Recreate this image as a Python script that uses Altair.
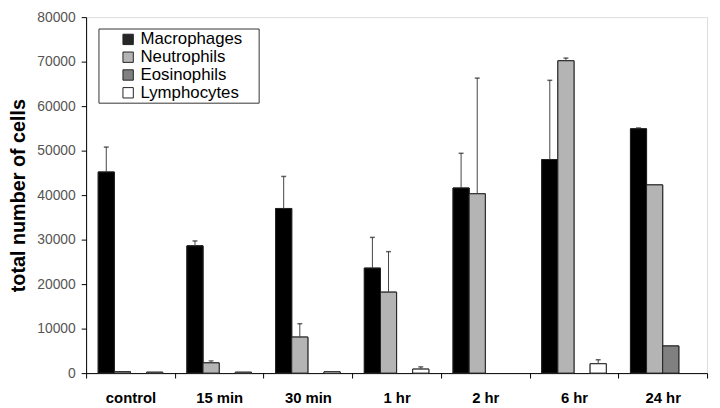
import altair as alt
import pandas as pd

categories = ["control", "15 min", "30 min", "1 hr", "2 hr", "6 hr", "24 hr"]
series = ["Macrophages", "Neutrophils", "Eosinophils", "Lymphocytes"]
colors = ["#000000", "#b4b4b4", "#808080", "#ffffff"]
legend_colors = ["#262626", "#b4b4b4", "#808080", "#ffffff"]

macrophages = [45200, 28600, 37000, 23600, 41600, 48000, 54900]
macrophages_err = [5600, 1100, 7200, 6900, 7800, 17800, 200]
neutrophils = [300, 2300, 8100, 18200, 40300, 70200, 42300]
neutrophils_err = [0, 450, 3000, 9100, 26000, 600, 0]
eosinophils = [0, 0, 0, 0, 0, 0, 6100]
eosinophils_err = [0, 0, 0, 0, 0, 0, 0]
lymphocytes = [200, 200, 300, 900, 0, 2100, 0]
lymphocytes_err = [0, 0, 0, 500, 0, 900, 0]

rows = []
for name, vals, errs in [
    ("Macrophages", macrophages, macrophages_err),
    ("Neutrophils", neutrophils, neutrophils_err),
    ("Eosinophils", eosinophils, eosinophils_err),
    ("Lymphocytes", lymphocytes, lymphocytes_err),
]:
    for c, v, e in zip(categories, vals, errs):
        rows.append({"time": c, "cell": name, "value": v, "top": v + e, "err": e})
df = pd.DataFrame(rows)
df_nz = df[df["value"] > 0]

FONT = "Liberation Sans"

x = alt.X(
    "time:N",
    sort=categories,
    scale=alt.Scale(domain=categories, paddingInner=0, paddingOuter=0),
    axis=alt.Axis(
        title=None, labelAngle=0, labelFontWeight="bold", labelFontSize=15,
        labelColor="#000", labelFont=FONT, labelPadding=13, tickBand="extent",
        tickSize=5, tickColor="#000", domainColor="#000",
    ),
)
xo = alt.XOffset("cell:N", scale=alt.Scale(domain=series, paddingOuter=0.75, paddingInner=0))
y_scale = alt.Scale(domain=[0, 80000], nice=False)

bars = alt.Chart(df_nz).mark_bar(stroke="#222", strokeWidth=1).encode(
    x=x,
    xOffset=xo,
    y=alt.Y(
        "value:Q", scale=y_scale,
        axis=alt.Axis(
            title="total number of cells", titleFontSize=20, titleFontWeight="bold",
            titleFont=FONT, titleColor="#000", titlePadding=8,
            values=list(range(0, 80001, 10000)), format="d", grid=False,
            labelFontSize=14, labelFont=FONT, labelColor="#555", labelPadding=6,
            tickSize=5, tickColor="#000", domainColor="#000",
        ),
    ),
    fill=alt.Fill(
        "cell:N",
        scale=alt.Scale(domain=series, range=legend_colors),
        legend=alt.Legend(
            title=None, orient="none", legendX=34, legendY=14,
            labelFontSize=17, labelFont=FONT, labelColor="#000",
            symbolType="square", symbolSize=110, symbolStrokeColor="#222",
            symbolStrokeWidth=1, rowPadding=0, padding=0, labelOffset=4,
            symbolOffset=0,
        ),
    ),
)

bars_fill = alt.Chart(df_nz).mark_bar(stroke="#222", strokeWidth=1).encode(
    x=x, xOffset=xo, y=alt.Y("value:Q", scale=y_scale),
    color=alt.Color("cell:N", scale=alt.Scale(domain=series, range=colors), legend=None),
)

err_df = df[df["err"] > 0]
rules = alt.Chart(err_df).mark_rule(color="#444", strokeWidth=1).encode(
    x=x, xOffset=xo, y=alt.Y("value:Q", scale=y_scale), y2="top:Q",
)
caps = alt.Chart(err_df).mark_tick(color="#222", thickness=1.5, size=5).encode(
    x=x, xOffset=xo, y=alt.Y("top:Q", scale=y_scale),
)

legend_frame = alt.Chart(pd.DataFrame({"a": [0]})).mark_rect(
    fill="#ffffff", stroke="#333", strokeWidth=1
).encode(
    x=alt.value(13), x2=alt.value(175), y=alt.value(12), y2=alt.value(87),
)

chart = (
    alt.layer(legend_frame, bars, bars_fill, rules, caps)
    .resolve_scale(color="independent")
    .properties(
        width=628, height=360,
        autosize=alt.AutoSizeParams(type="none"),
        padding={"left": 79, "top": 7, "right": 5, "bottom": 30},
    )
    .configure_view(stroke="#666", strokeWidth=1)
    .configure(background="#ffffff")
)

chart.save("out.html", embed_options={"renderer": "svg", "actions": False})
